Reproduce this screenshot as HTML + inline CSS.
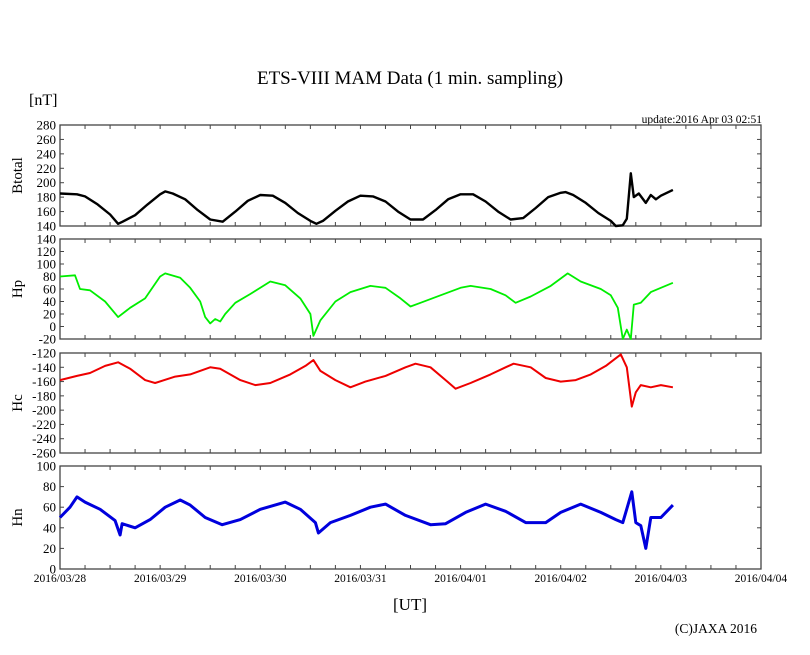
<!DOCTYPE html>
<html><head><meta charset="utf-8"><style>
body{margin:0;background:#fff}
svg{display:block;font-family:"Liberation Serif",serif}
</style></head><body>
<svg id="chart" width="810" height="655" xmlns="http://www.w3.org/2000/svg">
<text x="410" y="84" text-anchor="middle" font-size="19">ETS-VIII MAM Data (1 min. sampling)</text>
<text x="29" y="105" font-size="16">[nT]</text>
<text x="762" y="123" text-anchor="end" font-size="11.5">update:2016 Apr 03 02:51</text>
<text x="410" y="610" text-anchor="middle" font-size="17">[UT]</text>
<text x="757" y="633" text-anchor="end" font-size="13.5">(C)JAXA 2016</text>
<g id="plots"></g>
</svg>
<script>
const xDays = ["2016/03/28","2016/03/29","2016/03/30","2016/03/31","2016/04/01","2016/04/02","2016/04/03","2016/04/04"];
const btTime = [0,0.17,0.25,0.375,0.5,0.58,0.625,0.75,0.875,1.0,1.05,1.125,1.25,1.375,1.5,1.625,1.75,1.875,2.0,2.125,2.25,2.375,2.5,2.56,2.625,2.75,2.875,3.0,3.125,3.25,3.375,3.5,3.625,3.75,3.875,4.0,4.125,4.25,4.375,4.5,4.625,4.75,4.875,5.0,5.05,5.125,5.25,5.375,5.5,5.55,5.62,5.66,5.7,5.73,5.78,5.85,5.9,5.95,6.0,6.12];
const btVal  = [185,184,181,170,156,143,146,155,170,184,188,185,177,162,149,146,160,175,183,182,172,158,147,143,147,161,174,182,181,174,160,149,149,162,177,184,184,174,160,149,151,165,180,186,187,183,172,158,147,140,141,150,213,180,185,172,183,177,182,190];
const hpTime = [0,0.15,0.2,0.3,0.45,0.58,0.7,0.85,1.0,1.05,1.2,1.3,1.4,1.45,1.5,1.55,1.6,1.65,1.75,1.9,2.1,2.25,2.4,2.5,2.53,2.6,2.75,2.9,3.1,3.25,3.4,3.5,3.6,3.8,4.0,4.1,4.3,4.45,4.55,4.7,4.9,5.07,5.2,5.4,5.5,5.57,5.62,5.66,5.7,5.73,5.8,5.9,6.0,6.12];
const hpVal  = [80,82,60,58,40,15,30,45,80,85,78,62,40,15,5,12,8,20,38,52,72,66,45,20,-15,10,40,55,65,62,45,32,38,50,62,65,60,50,38,48,65,85,72,60,50,30,-20,-5,-20,35,38,55,62,70];
const hcTime = [0,0.17,0.3,0.45,0.58,0.7,0.85,0.95,1.15,1.3,1.5,1.6,1.8,1.95,2.1,2.3,2.45,2.53,2.6,2.75,2.9,3.05,3.25,3.45,3.55,3.7,3.85,3.95,4.1,4.3,4.45,4.53,4.7,4.85,5.0,5.15,5.3,5.45,5.6,5.66,5.71,5.75,5.8,5.9,6.0,6.12];
const hcVal  = [-158,-152,-148,-138,-133,-142,-158,-162,-153,-150,-140,-142,-158,-165,-162,-150,-138,-130,-145,-158,-168,-160,-152,-140,-135,-140,-158,-170,-162,-150,-140,-135,-140,-155,-160,-158,-150,-138,-122,-140,-195,-175,-165,-168,-165,-168];
const hnTime = [0,0.1,0.17,0.25,0.4,0.55,0.6,0.62,0.75,0.9,1.05,1.2,1.3,1.45,1.62,1.8,2.0,2.25,2.4,2.55,2.58,2.7,2.9,3.1,3.25,3.45,3.7,3.85,4.05,4.25,4.45,4.65,4.85,5.0,5.2,5.4,5.55,5.62,5.71,5.75,5.8,5.85,5.9,6.0,6.12];
const hnVal  = [50,60,70,65,58,47,33,44,40,48,60,67,62,50,43,48,58,65,58,45,35,45,52,60,63,52,43,44,55,63,56,45,45,55,63,55,48,45,75,45,42,20,50,50,62];
const yTicks = [[140,160,180,200,220,240,260,280],[-20,0,20,40,60,80,100,120,140],[-260,-240,-220,-200,-180,-160,-140,-120],[0,20,40,60,80,100]];
const panelNames = ["Btotal","Hp","Hc","Hn"];
const colors = ["#000","#0e0","#e00","#00d"];
const widths = [2.4,1.8,2.0,3.0];
const series = [[btTime,btVal],[hpTime,hpVal],[hcTime,hcVal],[hnTime,hnVal]];
const panelY = [[125,226],[239,339],[353,453],[466,569]];
const X0=60, X1=761, NDAYS=7;
const NS="http://www.w3.org/2000/svg";
const g=document.getElementById('plots');
function xs(d){return X0+(X1-X0)*d/NDAYS;}
function mk(tag,attrs,parent){const e=document.createElementNS(NS,tag);for(const k in attrs)e.setAttribute(k,attrs[k]);(parent||g).appendChild(e);return e;}
panelY.forEach((py,i)=>{
  const tk=yTicks[i],lo=tk[0],hi=tk[tk.length-1];
  const ys=v=>py[1]-(v-lo)/(hi-lo)*(py[1]-py[0]);
  const pg=mk('g',{});
  
  
  const r=mk('rect',{x:X0,y:py[0],width:X1-X0,height:py[1]-py[0],fill:'none',stroke:'#444','stroke-width':1.3},pg);
  
  
  tk.forEach(v=>{
    const y=ys(v);
    mk('line',{x1:X0,x2:X0+4,y1:y,y2:y,stroke:'#444'},pg);
    mk('line',{x1:X1-4,x2:X1,y1:y,y2:y,stroke:'#444'},pg);
    const t=mk('text',{x:X0-4,y:y+4.5,'text-anchor':'end','font-size':13},pg);
    t.textContent=v;
    
    
  });
  for(let k=1;k<NDAYS*4;k++){
    const x=xs(k/4);
    mk('line',{x1:x,x2:x,y1:py[0],y2:py[0]+4,stroke:'#444'},pg);
    mk('line',{x1:x,x2:x,y1:py[1]-4,y2:py[1],stroke:'#444'},pg);
  }
  const yt=mk('text',{x:0,y:0,'text-anchor':'middle','font-size':15,transform:`translate(22,${(py[0]+py[1])/2}) rotate(-90)`},pg);
  yt.textContent=panelNames[i];
  
  
  const [tt,vv]=series[i];
  const pts=tt.map((d,j)=>xs(d).toFixed(1)+','+ys(vv[j]).toFixed(1)).join(' ');
  const pl=mk('polyline',{points:pts,fill:'none',stroke:colors[i],'stroke-width':widths[i],'stroke-linejoin':'round'},pg);
  
  
});
xDays.forEach((d,k)=>{
  const t=mk('text',{x:xs(k),y:582,'text-anchor':'middle','font-size':11.5});
  t.textContent=d;
  
  
});
</script>
</body></html>
